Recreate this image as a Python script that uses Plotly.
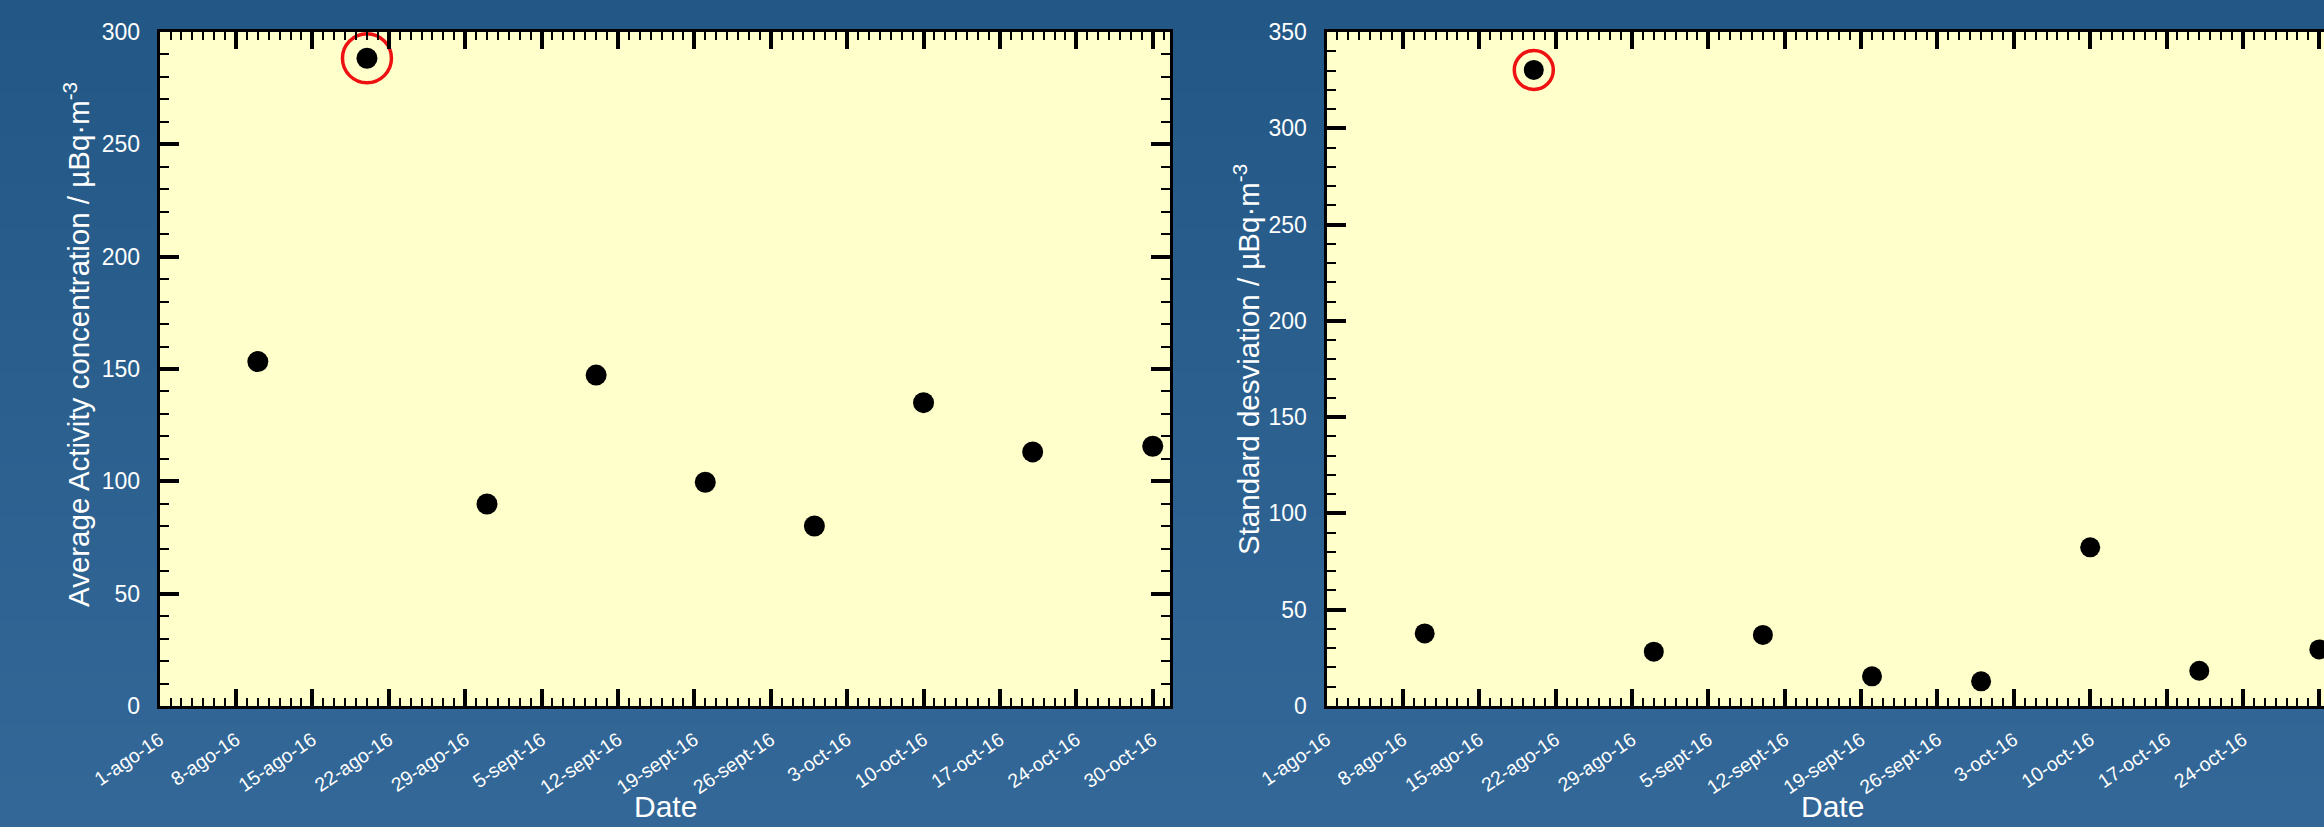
import plotly.graph_objects as go
import numpy as np

# ---------------- data ----------------
sample_dates = ["2016-08-10", "2016-08-20", "2016-08-31", "2016-09-10", "2016-09-20",
                "2016-09-30", "2016-10-10", "2016-10-20", "2016-10-31"]
avg_activity = [153.3, 288.3, 89.9, 147.3, 99.6, 80.1, 135.0, 113.1, 115.6]
std_dev = [37.7, 330.3, 28.2, 36.9, 15.4, 12.8, 82.4, 18.3, 29.4]

tick_dates = ["2016-08-01", "2016-08-08", "2016-08-15", "2016-08-22", "2016-08-29",
              "2016-09-05", "2016-09-12", "2016-09-19", "2016-09-26", "2016-10-03",
              "2016-10-10", "2016-10-17", "2016-10-24", "2016-10-31"]
tick_labels = ["1-ago-16", "8-ago-16", "15-ago-16", "22-ago-16", "29-ago-16",
               "5-sept-16", "12-sept-16", "19-sept-16", "26-sept-16", "3-oct-16",
               "10-oct-16", "17-oct-16", "24-oct-16", "30-oct-16"]

y1_title = "Average Activity concentration / µBq·m<sup>-3</sup>"
y2_title = "Standard desviation / µBq·m<sup>-3</sup>"
x_title = "Date"

# ---------------- layout constants ----------------
W, H = 2324, 827
FONT = "Liberation Sans, Arial, Helvetica, sans-serif"
PLOT_BG = "#FFFFCC"
TOP_C = np.array([35, 88, 134])
BOT_C = np.array([51, 104, 152])

def px(x):
    return x / W

def py(y):
    return 1 - y / H

fig = go.Figure()

# scatter points
fig.add_trace(go.Scatter(x=sample_dates, y=avg_activity, mode="markers",
                         marker=dict(color="black", size=21), xaxis="x", yaxis="y",
                         showlegend=False, cliponaxis=False))
fig.add_trace(go.Scatter(x=sample_dates, y=std_dev, mode="markers",
                         marker=dict(color="black", size=20), xaxis="x2", yaxis="y2",
                         showlegend=False, cliponaxis=True))

# red highlight circles around maximum values
i1 = int(np.argmax(avg_activity))
i2 = int(np.argmax(std_dev))
fig.add_trace(go.Scatter(x=[sample_dates[i1]], y=[avg_activity[i1]], mode="markers",
                         marker=dict(symbol="circle-open", size=49, color="#EE1111",
                                     line=dict(width=3.5, color="#EE1111")),
                         xaxis="x", yaxis="y", showlegend=False, cliponaxis=False))
fig.add_trace(go.Scatter(x=[sample_dates[i2]], y=[std_dev[i2]], mode="markers",
                         marker=dict(symbol="circle-open", size=39, color="#EE1111",
                                     line=dict(width=3.5, color="#EE1111")),
                         xaxis="x2", yaxis="y2", showlegend=False, cliponaxis=False))

# background gradient bands
shapes = []
N = 80
for k in range(N):
    t = (k + 0.5) / N
    c = TOP_C + (BOT_C - TOP_C) * t
    shapes.append(dict(type="rect", xref="paper", yref="paper",
                       x0=0, x1=1, y0=1 - (k + 1) / N - 0.002, y1=1 - k / N,
                       fillcolor="rgb(%d,%d,%d)" % tuple(c.astype(int)),
                       line=dict(width=0), layer="below"))
for xa, ya in (("x", "y"), ("x2", "y2")):
    shapes.append(dict(type="rect", xref=xa + " domain", yref=ya + " domain",
                       x0=0, x1=1, y0=0, y1=1, fillcolor=PLOT_BG,
                       line=dict(width=0), layer="below"))

common_x = dict(
    type="date", tickmode="array", tickvals=tick_dates, ticktext=tick_labels,
    tickangle=-34, ticks="inside", ticklen=17, tickwidth=3.5, tickcolor="black",
    showline=True, linecolor="black", linewidth=3, showgrid=False, zeroline=False,
    tickfont=dict(family=FONT, size=19.5, color="white"), mirror="ticks",
    minor=dict(ticks="inside", dtick=86400000, tick0="2016-08-01", ticklen=8,
               tickwidth=2, tickcolor="black", showgrid=False),
    automargin=False, ticklabelstandoff=12,
)
common_y = dict(
    ticks="inside", ticklen=19, tickwidth=3.5, tickcolor="black",
    showline=True, linecolor="black", linewidth=3, showgrid=False, zeroline=False,
    tickfont=dict(family=FONT, size=23, color="white"), dtick=50, tick0=0,
    minor=dict(ticks="inside", dtick=10, ticklen=9, tickwidth=2, tickcolor="black",
               showgrid=False),
    automargin=False, ticklabelstandoff=12,
)

yd = [py(706), py(32)]
fig.update_layout(
    width=W, height=H, margin=dict(l=0, r=0, t=0, b=0),
    paper_bgcolor="rgb(43,96,143)", plot_bgcolor=PLOT_BG,
    font=dict(family=FONT, color="white"),
    showlegend=False,
    shapes=shapes,
    xaxis=dict(common_x, domain=[px(159.6), px(1170)], anchor="y",
               range=["2016-08-01", "2016-11-01 14:00"]),
    yaxis=dict(common_y, domain=yd, anchor="x", range=[0, 300], mirror="ticks"),
    xaxis2=dict(common_x, domain=[px(1326.5), 1.0], anchor="y2",
                range=["2016-08-01", "2016-10-31 10:20"]),
    yaxis2=dict(common_y, domain=yd, anchor="x2", range=[0, 350], mirror=False),
    annotations=[
        dict(text=x_title, xref="paper", yref="paper", x=px(665), y=py(806),
             xanchor="center", yanchor="middle", showarrow=False,
             font=dict(family=FONT, size=30, color="white")),
        dict(text=x_title, xref="paper", yref="paper", x=px(1832), y=py(806),
             xanchor="center", yanchor="middle", showarrow=False,
             font=dict(family=FONT, size=30, color="white")),
        dict(text=y1_title, xref="paper", yref="paper", x=px(77), y=py(345),
             xanchor="center", yanchor="middle", showarrow=False, textangle=-90,
             font=dict(family=FONT, size=29.5, color="white")),
        dict(text=y2_title, xref="paper", yref="paper", x=px(1246), y=py(360),
             xanchor="center", yanchor="middle", showarrow=False, textangle=-90,
             font=dict(family=FONT, size=29.5, color="white")),
    ],
)

fig.write_html("out.html")
